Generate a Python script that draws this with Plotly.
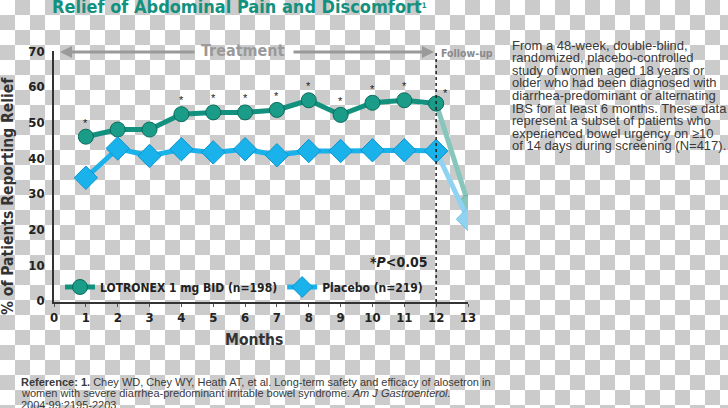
import base64
import plotly.graph_objects as go

# ---------------- data ----------------
months = [1, 2, 3, 4, 5, 6, 7, 8, 9, 10, 11, 12]
lotronex = [46.0, 48.0, 48.0, 52.3, 52.8, 52.8, 53.5, 56.2, 52.1, 55.5, 56.2, 55.3]
placebo = [34.5, 42.7, 40.6, 42.5, 41.6, 42.5, 40.8, 42.0, 42.0, 42.2, 42.2, 42.0]
followup_months = [12, 13]
lotronex_followup = [55.3, 27.5]
placebo_followup = [42.0, 22.9]
sig_months = [1, 4, 5, 6, 7, 8, 9, 10, 11]
x_ticks = list(range(0, 14))
y_ticks = [0, 10, 20, 30, 40, 50, 60, 70]
lot_name = "LOTRONEX 1 mg BID (n=198)"
pla_name = "Placebo (n=219)"
title_text = "Relief of Abdominal Pain and Discomfort<span style='font-size:11px'><sup>1</sup></span>"
side_lines = [
    "From a 48-week, double-blind,",
    "randomized, placebo-controlled",
    "study of women aged 18 years or",
    "older who had been diagnosed with",
    "diarrhea-predominant or alternating",
    "IBS for at least 6 months. These data",
    "represent a subset of patients who",
    "experienced bowel urgency on \u226510",
    "of 14 days during screening (N=417).",
]
ref_lines = [
    "<b>Reference: 1.</b> Chey WD, Chey WY, Heath AT, et al. Long-term safety and efficacy of alosetron in",
    "women with severe diarrhea-predominant irritable bowel syndrome. <i>Am J Gastroenterol.</i>",
    "2004;99:2195-2203.",
]

# ---------------- layout geometry ----------------
WIDTH, HEIGHT = 728, 408
L, R, T, B = 54, 260, 51, 106
PW = WIDTH - L - R
PH = HEIGHT - T - B


def xp(px):
    return (px - L) / PW


def yp(py):
    return 1 - (py - T) / PH


COND = "DejaVu Sans Condensed, Liberation Sans Narrow, Arial Narrow, sans-serif"
SANS = "Liberation Sans, Arial, sans-serif"
TEAL = "#13917f"
TEAL_LIGHT = "#86c6bc"
BLUE = "#1ab2ea"
BLUE_LIGHT = "#8fd2f1"
DARK = "#222222"
GRAY = "#9a9a9a"

# checkerboard background (transparent-PNG look)
svg = (
    f'<svg xmlns="http://www.w3.org/2000/svg" width="{WIDTH}" height="{HEIGHT}">'
    '<defs><pattern id="p" width="30" height="30" patternUnits="userSpaceOnUse">'
    '<rect x="0" y="0" width="30" height="30" fill="#ffffff"/>'
    '<rect x="15" y="0" width="15" height="15" fill="#cbcbcb"/>'
    '<rect x="0" y="15" width="15" height="15" fill="#cbcbcb"/>'
    '</pattern></defs>'
    f'<rect width="{WIDTH}" height="{HEIGHT}" fill="url(#p)"/></svg>'
)
svg_uri = "data:image/svg+xml;base64," + base64.b64encode(svg.encode()).decode()

fig = go.Figure()

# follow-up segments (lighter)
fig.add_trace(go.Scatter(
    x=followup_months, y=lotronex_followup, mode="lines+markers",
    line=dict(color=TEAL_LIGHT, width=5),
    marker=dict(symbol="circle", size=15, color=TEAL_LIGHT, line=dict(color="#6aaea4", width=1)),
    showlegend=False, hoverinfo="skip"))
fig.add_trace(go.Scatter(
    x=followup_months, y=placebo_followup, mode="lines+markers",
    line=dict(color=BLUE_LIGHT, width=5),
    marker=dict(symbol="diamond", size=18, color=BLUE_LIGHT, line=dict(color="#74c2e8", width=1)),
    showlegend=False, hoverinfo="skip"))

# main series
fig.add_trace(go.Scatter(
    x=months, y=lotronex, mode="lines+markers", name=lot_name,
    line=dict(color=TEAL, width=5),
    marker=dict(symbol="circle", size=15, color="#1a9c89", line=dict(color="#0b6b5d", width=1))))
fig.add_trace(go.Scatter(
    x=months, y=placebo, mode="lines+markers", name=pla_name,
    line=dict(color=BLUE, width=5),
    marker=dict(symbol="diamond", size=18, color=BLUE, line=dict(color="#0d93cf", width=1))))

annotations = []


def label(px, py, text, font, xanchor="center", yanchor="middle", **kw):
    annotations.append(dict(x=xp(px), y=yp(py), xref="paper", yref="paper", text=text,
                            showarrow=False, xanchor=xanchor, yanchor=yanchor, font=font, **kw))


# significance asterisks
for m in sig_months:
    annotations.append(dict(x=m, y=lotronex[months.index(m)], xref="x", yref="y",
                            text="*", showarrow=False, yshift=14, xanchor="center", yanchor="middle",
                            font=dict(family="Arial", size=11, color=DARK)))
annotations.append(dict(x=12.28, y=lotronex[-1], xref="x", yref="y", text="*",
                        showarrow=False, yshift=10, xanchor="center", yanchor="middle",
                        font=dict(family="Arial", size=11, color=DARK)))

# title
label(50, 7, title_text, dict(family=COND, size=18, color=TEAL, weight="bold"), xanchor="left")

# Treatment label and arrows
label(243, 50, "Treatment", dict(family=COND, size=16, color=GRAY, weight="bold"))
annotations.append(dict(x=xp(60), y=yp(52), ax=xp(196), ay=yp(52), xref="x domain", yref="y domain",
                        axref="x domain", ayref="y domain", text="", showarrow=True, arrowhead=2,
                        arrowsize=0.8, arrowwidth=3, arrowcolor=GRAY))
annotations.append(dict(x=xp(434), y=yp(52), ax=xp(292), ay=yp(52), xref="x domain", yref="y domain",
                        axref="x domain", ayref="y domain", text="", showarrow=True, arrowhead=2,
                        arrowsize=0.8, arrowwidth=3, arrowcolor=GRAY))
label(439, 53, "Follow-up", dict(family=COND, size=10.5, color="#8a8a8a", weight="bold"), xanchor="left")

# P value note
label(429, 262, "*<i>P</i>&lt;0.05", dict(family=COND, size=14, color=DARK, weight="bold"), xanchor="right")

# axis titles
label(8, 196, "% of Patients Reporting Relief",
      dict(family=COND, size=15.5, color="#333333", weight="bold"), textangle=-90)
label(254, 340, "Months", dict(family=COND, size=15.5, color="#333333", weight="bold"))

# side description
for i, line in enumerate(side_lines):
    label(510, 45 + i * 12.6, line, dict(family=SANS, size=13, color="#3a3a3a"), xanchor="left")

# reference lines
for i, line in enumerate(ref_lines):
    label(19, 381.5 + i * 11.7, line, dict(family=SANS, size=11, color="#3a3a3a"), xanchor="left")

fig.update_layout(
    width=WIDTH, height=HEIGHT,
    margin=dict(l=L, r=R, t=T, b=B, pad=0, autoexpand=False),
    paper_bgcolor="white", plot_bgcolor="rgba(0,0,0,0)",
    images=[dict(source=svg_uri, xref="paper", yref="paper", x=-L / PW, y=1 + T / PH,
                 sizex=WIDTH / PW, sizey=HEIGHT / PH, xanchor="left", yanchor="top",
                 sizing="stretch", layer="below")],
    xaxis=dict(range=[0, 13], tickvals=x_ticks, showgrid=False, zeroline=False, automargin=False,
               showline=True, linecolor="#333333", linewidth=1.5, ticks="outside",
               ticklen=3, tickcolor="#555555",
               tickfont=dict(family=COND, size=13, color=DARK, weight="bold")),
    yaxis=dict(range=[-0.3, 70], tickvals=y_ticks, showgrid=False, zeroline=False, automargin=False,
               showline=True, linecolor="#333333", linewidth=1.5, ticks="",
               ticklabelstandoff=5,
               tickfont=dict(family=COND, size=13, color=DARK, weight="bold")),
    legend=dict(orientation="h", x=xp(60), y=yp(287), xanchor="left", yanchor="middle",
                bgcolor="rgba(0,0,0,0)", font=dict(family=COND, size=12, color=DARK, weight="bold"),
                itemwidth=30, tracegroupgap=0),
    shapes=[dict(type="line", xref="x", yref="paper", x0=12, x1=12, y0=0, y1=yp(50),
                 line=dict(color="#222222", width=1.5, dash="3px,3px"))],
    annotations=annotations,
    showlegend=True,
)

fig.write_html("out.html", config={"displayModeBar": False},
               post_script="document.body.style.margin='0';document.body.style.overflow='hidden';")
